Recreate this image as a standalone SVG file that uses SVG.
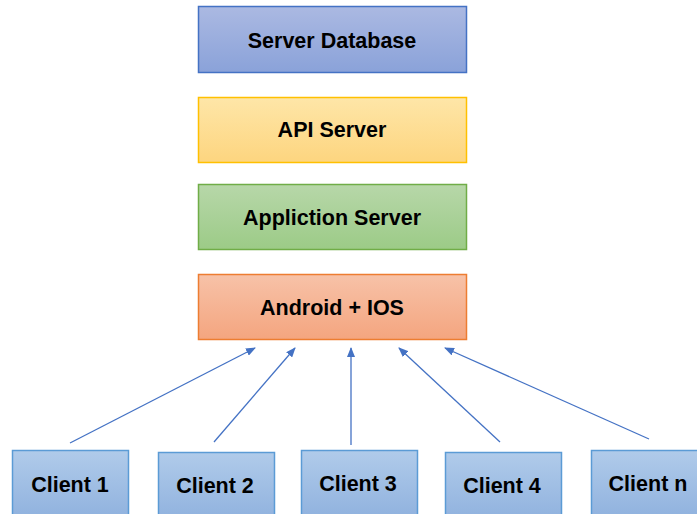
<svg xmlns="http://www.w3.org/2000/svg" width="697" height="514" viewBox="0 0 697 514">
<style>
text{font-family:"Liberation Sans","Open Sans",sans-serif;font-weight:bold;font-size:21.5px;fill:#000;text-anchor:middle;dominant-baseline:central}
.c{stroke:#4472c4;stroke-width:1.3;fill:none;marker-end:url(#ah)}
</style>
<defs>
<linearGradient id="gb" x1="0" y1="0" x2="0" y2="1"><stop offset="0" stop-color="#abb9e2"/><stop offset="1" stop-color="#8aa2d9"/></linearGradient>
<linearGradient id="gy" x1="0" y1="0" x2="0" y2="1"><stop offset="0" stop-color="#fee6a8"/><stop offset="1" stop-color="#fdd57f"/></linearGradient>
<linearGradient id="gg" x1="0" y1="0" x2="0" y2="1"><stop offset="0" stop-color="#b7d7a9"/><stop offset="1" stop-color="#9ccb87"/></linearGradient>
<linearGradient id="go" x1="0" y1="0" x2="0" y2="1"><stop offset="0" stop-color="#f7c2a8"/><stop offset="1" stop-color="#f4a57f"/></linearGradient>
<linearGradient id="gc" x1="0" y1="0" x2="0" y2="1"><stop offset="0" stop-color="#b0cbea"/><stop offset="1" stop-color="#8fb1de"/></linearGradient>
<marker id="ah" markerWidth="10" markerHeight="8" refX="9" refY="4" orient="auto" markerUnits="userSpaceOnUse"><path d="M0,0 L10,4 L0,8 Z" fill="#4472c4"/></marker>
</defs>
<g id="db"><rect x="198.5" y="6.5" width="268" height="66" fill="url(#gb)" stroke="#4472c4" stroke-width="1.5"/><text x="332" y="41">Server Database</text></g>
<g id="api"><rect x="198.5" y="97.5" width="268" height="65" fill="url(#gy)" stroke="#ffc000" stroke-width="1.5"/><text x="332" y="130">API Server</text></g>
<g id="app"><rect x="198.5" y="184.5" width="268" height="65" fill="url(#gg)" stroke="#70ad47" stroke-width="1.5"/><text x="332" y="218">Appliction Server</text></g>
<g id="mobile"><rect x="198.5" y="274.5" width="268" height="65" fill="url(#go)" stroke="#ed7d31" stroke-width="1.5"/><text x="332" y="308">Android + IOS</text></g>
<g id="client1"><rect x="12.5" y="450.5" width="116" height="70" fill="url(#gc)" stroke="#5b9bd5" stroke-width="1.5"/><text x="70" y="485">Client 1</text></g>
<g id="client2"><rect x="158.5" y="452.5" width="116" height="70" fill="url(#gc)" stroke="#5b9bd5" stroke-width="1.5"/><text x="215" y="486">Client 2</text></g>
<g id="client3"><rect x="301.5" y="450.5" width="116" height="70" fill="url(#gc)" stroke="#5b9bd5" stroke-width="1.5"/><text x="358" y="484">Client 3</text></g>
<g id="client4"><rect x="445.5" y="452.5" width="116" height="70" fill="url(#gc)" stroke="#5b9bd5" stroke-width="1.5"/><text x="502" y="486">Client 4</text></g>
<g id="clientn"><rect x="591.5" y="450.5" width="116" height="70" fill="url(#gc)" stroke="#5b9bd5" stroke-width="1.5"/><text x="648" y="484">Client n</text></g>
<g id="connectors">
<line class="c" x1="70" y1="443" x2="255" y2="348"/>
<line class="c" x1="214" y1="442" x2="295" y2="348"/>
<line class="c" x1="351" y1="445" x2="351" y2="348"/>
<line class="c" x1="500" y1="442" x2="399" y2="348"/>
<line class="c" x1="649" y1="439" x2="445" y2="348"/>
</g>
</svg>
